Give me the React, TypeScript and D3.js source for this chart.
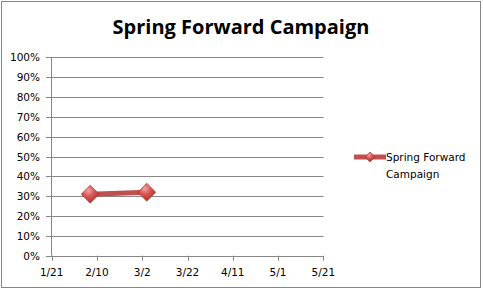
import React from "react";
import * as d3 from "d3";

const W = 483;
const H = 291;
const title = "Spring Forward Campaign";
const seriesName = ["Spring Forward", "Campaign"];
const dates = ["2011-02-07", "2011-03-04"];
const values = [0.31, 0.32];
const xTickLabels = ["1/21", "2/10", "3/2", "3/22", "4/11", "5/1", "5/21"];
const yTicks = [0, 0.1, 0.2, 0.3, 0.4, 0.5, 0.6, 0.7, 0.8, 0.9, 1.0];

const parse = d3.utcParse("%Y-%m-%d");
const xStart = parse("2011-01-21")!;
const xEnd = parse("2011-05-21")!;
const xTicks = d3.range(7).map((i) => d3.utcDay.offset(xStart, i * 20));

export default function App() {
  const x = d3.scaleUtc().domain([xStart, xEnd]).range([51.7, 323.3]);
  const y = d3.scaleLinear().domain([0, 1]).range([255.7, 57.3]);
  const pts = dates.map((d, i) => [x(parse(d)!), y(values[i])] as [number, number]);
  const line = d3.line();
  const font = "'DejaVu Sans', sans-serif";
  const diamond = (cx: number, cy: number, r: number, key: string) => (
    <g key={key}>
      <path
        d={`M${cx},${cy - r}L${cx + r},${cy}L${cx},${cy + r}L${cx - r},${cy}Z`}
        fill="url(#dg)"
        stroke="#9b2c2a"
        strokeWidth={0.6}
      />
    </g>
  );
  return (
    <svg width={W} height={H} style={{ position: "absolute", left: 0, top: 0 }}>
      <defs>
        <radialGradient id="dg" cx="40%" cy="30%" r="75%">
          <stop offset="0%" stopColor="#f4a3a0" />
          <stop offset="45%" stopColor="#d9534f" />
          <stop offset="100%" stopColor="#a3302c" />
        </radialGradient>
      </defs>
      <rect x={0} y={0} width={W} height={H} fill="#fff" />
      <rect x={1.5} y={1.5} width={479} height={286} fill="none" stroke="#868686" strokeWidth={1} />
      <text x={241} y={34} textAnchor="middle" fontFamily="'Open Sans', sans-serif" fontWeight="bold" fontSize={20} fill="#000">
        {title}
      </text>
      {yTicks.map((t) => (
        <g key={t}>
          <line x1={46} x2={323.5} y1={Math.round(y(t)) + 0.5} y2={Math.round(y(t)) + 0.5} stroke="#868686" />
          <text x={40} y={y(t) + 4} textAnchor="end" fontFamily={font} fontSize={10.5} fill="#000">
            {Math.round(t * 100) + "%"}
          </text>
        </g>
      ))}
      <line x1={51.5} x2={51.5} y1={y(1)} y2={y(0)} stroke="#868686" />
      {xTicks.map((t, i) => (
        <g key={i}>
          <line x1={Math.round(x(t)) + 0.5} x2={Math.round(x(t)) + 0.5} y1={y(0)} y2={y(0) + 5} stroke="#868686" />
          <text x={x(t)} y={276} textAnchor="middle" fontFamily={font} fontSize={10.5} fill="#000">
            {xTickLabels[i]}
          </text>
        </g>
      ))}
      <path d={line(pts) || ""} fill="none" stroke="#c0504d" strokeWidth={5} />
      {pts.map((p, i) => diamond(p[0], p[1], 9, "d" + i))}
      <line x1={354} x2={386} y1={157} y2={157} stroke="#c0504d" strokeWidth={5} />
      {diamond(370, 157, 5, "ld")}
      <text fontFamily={font} fontSize={10.5} fill="#000">
        <tspan x={386} y={161}>{seriesName[0]}</tspan>
        <tspan x={386} y={178}>{seriesName[1]}</tspan>
      </text>
    </svg>
  );
}
